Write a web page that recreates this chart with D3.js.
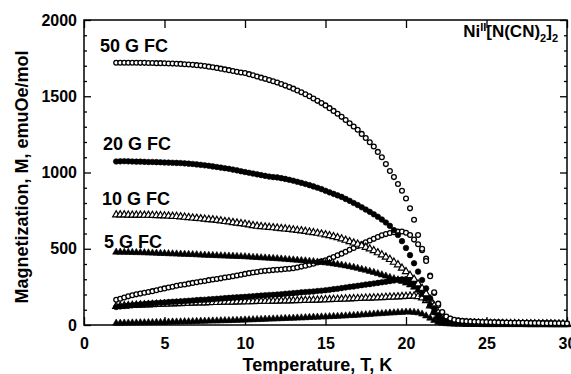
<!DOCTYPE html>
<html>
<head>
<meta charset="utf-8">
<script src="https://cdn.jsdelivr.net/npm/d3@7"></script>
<style>
  body { margin: 0; background: #fff; }
  text { font-family: "Liberation Sans", Arial, sans-serif; font-weight: bold; fill: #000; }
</style>
</head>
<body>
<div id="chart"></div>
<script>
const width = 571;
const height = 374;

// temperatures of the measurement points, K
const temps = [
  2, 2.25, 2.5, 2.75, 3, 3.25, 3.5, 3.75, 4, 4.25, 4.5, 4.75, 5, 5.25, 5.5, 5.75,
  6, 6.25, 6.5, 6.75, 7, 7.25, 7.5, 7.75, 8, 8.25, 8.5, 8.75, 9, 9.25, 9.5, 9.75,
  10, 10.25, 10.5, 10.75, 11, 11.25, 11.5, 11.75, 12, 12.25, 12.5, 12.75, 13, 13.25, 13.5, 13.75,
  14, 14.25, 14.5, 14.75, 15, 15.25, 15.5, 15.75, 16, 16.25, 16.5, 16.75, 17, 17.25, 17.5, 17.75,
  18, 18.25, 18.5, 18.75, 19, 19.25, 19.5, 19.75, 20, 20.25, 20.5, 20.75, 21, 21.25, 21.5, 21.75,
  22, 22.25, 22.5, 22.75, 23, 23.25, 23.5, 23.75, 24, 24.25, 24.5, 24.75, 25, 25.25, 25.5, 25.75,
  26, 26.25, 26.5, 26.75, 27, 27.25, 27.5, 27.75, 28, 28.25, 28.5, 28.75, 29, 29.25, 29.5, 29.75, 30
];

// magnetization, emuOe/mol
const fc50 = [
  1720, 1720, 1720, 1720, 1720, 1720, 1719, 1719, 1718, 1718, 1717, 1717, 1716, 1715, 1714, 1713,
  1712, 1710, 1708, 1706, 1704, 1701, 1698, 1694, 1690, 1686, 1681, 1676, 1671, 1666, 1660, 1656,
  1652, 1645, 1638, 1630, 1622, 1614, 1606, 1598, 1590, 1580, 1570, 1560, 1550, 1538, 1526, 1513,
  1500, 1485, 1470, 1455, 1440, 1422, 1404, 1385, 1365, 1344, 1323, 1302, 1280, 1253, 1226, 1198,
  1170, 1135, 1100, 1055, 1010, 970, 925, 880, 830, 765, 690, 590, 500, 420, 320, 215,
  140, 85, 55, 42, 34, 30, 27, 25, 23, 22, 21, 20, 19, 18, 18, 17,
  16, 16, 15, 15, 14, 14, 14, 13, 13, 13, 12, 12, 12, 11, 11, 11, 10
];
const fc20 = [
  1072, 1073, 1074, 1073, 1072, 1071, 1071, 1070, 1069, 1069, 1068, 1067, 1066, 1065, 1064, 1063,
  1062, 1060, 1058, 1056, 1053, 1050, 1047, 1044, 1040, 1036, 1032, 1028, 1024, 1019, 1014, 1008,
  1003, 998, 993, 988, 983, 978, 973, 970, 968, 963, 958, 952, 946, 939, 932, 925,
  917, 909, 900, 891, 880, 870, 860, 850, 840, 827, 814, 800, 787, 772, 757, 742,
  726, 710, 692, 672, 650, 622, 590, 550, 505, 458, 405, 350, 295, 240, 175, 110,
  65, 40, 30, 24, 20, 18, 17, 16, 15, 15, 14, 14, 13, 13, 12, 12,
  12, 11, 11, 11, 10, 10, 10, 10, 9, 9, 9, 9, 8, 8, 8, 8, 8
];
const fc10 = [
  722, 722, 722, 721, 721, 721, 721, 720, 720, 719, 718, 717, 716, 715, 713, 712,
  710, 707, 705, 702, 700, 697, 694, 692, 690, 686, 683, 679, 676, 672, 669, 665,
  662, 657, 652, 648, 645, 643, 640, 638, 636, 633, 630, 627, 624, 621, 618, 614,
  610, 606, 602, 597, 592, 586, 580, 573, 565, 556, 547, 538, 530, 520, 510, 499,
  488, 474, 460, 445, 430, 412, 395, 373, 350, 325, 300, 270, 240, 205, 170, 125,
  80, 45, 30, 24, 20, 17, 15, 14, 13, 12, 12, 11, 11, 10, 10, 10,
  9, 9, 9, 9, 8, 8, 8, 8, 7, 7, 7, 7, 7, 6, 6, 6, 6
];
const fc5 = [
  478, 478, 477, 477, 476, 475, 475, 474, 473, 472, 471, 470, 469, 468, 467, 466,
  465, 464, 463, 462, 461, 459, 458, 457, 456, 455, 454, 453, 452, 451, 450, 449,
  448, 446, 444, 443, 441, 440, 438, 437, 435, 433, 431, 429, 427, 425, 423, 421,
  418, 416, 413, 411, 408, 405, 401, 397, 393, 388, 383, 378, 372, 365, 359, 352,
  345, 337, 329, 321, 312, 304, 296, 286, 275, 263, 248, 228, 200, 170, 130, 90,
  55, 30, 20, 15, 12, 10, 9, 8, 7, 7, 6, 6, 6, 5, 5, 5,
  5, 5, 5, 4, 4, 4, 4, 4, 4, 4, 4, 4, 3, 3, 3, 3, 3
];
const zfc50 = [
  165, 172, 180, 188, 195, 201, 206, 211, 216, 222, 228, 234, 240, 246, 251, 257,
  262, 266, 271, 276, 280, 285, 289, 294, 298, 302, 306, 311, 315, 320, 325, 330,
  335, 340, 344, 348, 352, 355, 357, 360, 362, 364, 367, 369, 372, 377, 383, 389,
  395, 402, 410, 417, 425, 435, 446, 457, 468, 480, 493, 505, 518, 530, 542, 554,
  565, 577, 588, 596, 603, 608, 612, 613, 605, 590, 560, 530, 490, 435, 325, 210,
  130, 80, 52, 40, 33, 29, 26, 24, 22, 21, 20, 19, 18, 18, 17, 16,
  16, 15, 15, 14, 14, 13, 13, 13, 12, 12, 12, 11, 11, 11, 10, 10, 10
];
const zfc20 = [
  118, 121, 124, 127, 130, 132, 135, 137, 140, 142, 144, 146, 148, 150, 152, 153,
  155, 157, 159, 161, 163, 165, 166, 168, 170, 172, 174, 176, 178, 180, 182, 183,
  185, 187, 189, 191, 193, 195, 197, 198, 200, 202, 205, 207, 209, 211, 214, 216,
  218, 220, 223, 225, 228, 231, 235, 238, 242, 246, 250, 253, 257, 261, 265, 268,
  272, 276, 280, 284, 288, 292, 296, 299, 300, 292, 275, 250, 215, 175, 130, 85,
  50, 32, 24, 20, 17, 15, 14, 13, 12, 12, 11, 11, 10, 10, 10, 9,
  9, 9, 9, 8, 8, 8, 8, 8, 7, 7, 7, 7, 7, 6, 6, 6, 6
];
const zfc10 = [
  122, 124, 126, 127, 129, 130, 131, 132, 133, 134, 135, 136, 137, 138, 139, 140,
  141, 142, 143, 144, 145, 145, 146, 147, 148, 148, 149, 150, 150, 151, 152, 152,
  153, 153, 154, 155, 155, 156, 156, 157, 157, 158, 158, 159, 160, 160, 161, 162,
  162, 163, 164, 165, 166, 167, 168, 169, 170, 171, 172, 173, 174, 175, 176, 177,
  178, 179, 180, 182, 183, 184, 185, 187, 188, 190, 190, 186, 178, 160, 125, 85,
  48, 28, 20, 16, 13, 12, 11, 10, 9, 9, 8, 8, 8, 7, 7, 7,
  7, 6, 6, 6, 6, 6, 5, 5, 5, 5, 5, 5, 5, 4, 4, 4, 4
];
const zfc5 = [
  12, 12, 13, 13, 14, 14, 15, 15, 16, 16, 17, 17, 18, 19, 20, 20,
  21, 22, 22, 23, 24, 25, 25, 26, 27, 27, 28, 29, 29, 30, 31, 32,
  33, 34, 35, 36, 37, 38, 39, 40, 41, 42, 43, 44, 45, 46, 47, 48,
  50, 51, 52, 53, 54, 55, 56, 57, 59, 60, 62, 63, 65, 67, 68, 70,
  72, 74, 75, 77, 79, 80, 82, 83, 85, 85, 83, 80, 72, 60, 45, 30,
  18, 12, 9, 7, 6, 5, 5, 4, 4, 4, 4, 3, 3, 3, 3, 3,
  3, 3, 3, 3, 3, 3, 2, 2, 2, 2, 2, 2, 2, 2, 2, 2, 2
];

const xTicks = [0, 5, 10, 15, 20, 25, 30];
const yTicks = [0, 500, 1000, 1500, 2000];
const yMinorTicks = [100, 200, 300, 400, 600, 700, 800, 900, 1100, 1200, 1300, 1400, 1600, 1700, 1800, 1900];

const fieldLabels = ['50 G FC', '20 G FC', '10 G FC', '5 G FC'];

const margin = { top: 20, right: 4, bottom: 49, left: 84 };
const innerW = width - margin.left - margin.right;
const innerH = height - margin.top - margin.bottom;

const x = d3.scaleLinear().domain([0, 30]).range([0, innerW]);
const y = d3.scaleLinear().domain([0, 2000]).range([innerH, 0]);

const svg = d3.select('#chart').append('svg')
  .attr('width', width)
  .attr('height', height);

const g = svg.append('g').attr('transform', `translate(${margin.left},${margin.top})`);

// axes, ticks point inward on all four sides
g.append('g')
  .call(d3.axisLeft(y).tickValues(yTicks).tickSize(-7).tickPadding(7).tickFormat(d3.format('d')));
g.append('g').attr('transform', `translate(${innerW},0)`)
  .call(d3.axisRight(y).tickValues(yTicks).tickSize(-7).tickFormat(''));
g.append('g').call(d3.axisLeft(y).tickValues(yMinorTicks).tickSize(-3).tickFormat(''));
g.append('g').attr('transform', `translate(${innerW},0)`)
  .call(d3.axisRight(y).tickValues(yMinorTicks).tickSize(-3).tickFormat(''));
g.append('g').attr('transform', `translate(0,${innerH})`)
  .call(d3.axisBottom(x).tickValues(xTicks).tickSize(-8).tickPadding(12.5).tickFormat(d3.format('d')));
g.append('g')
  .call(d3.axisTop(x).tickValues(xTicks).tickSize(-8).tickFormat(''));

g.selectAll('.domain').remove();
g.selectAll('.tick line').attr('stroke', '#000').attr('stroke-width', 1.3);
g.selectAll('.tick text')
  .style('font-size', '16px')
  .style('font-family', '"Liberation Sans", Arial, sans-serif')
  .style('font-weight', 'bold');

g.append('rect')
  .attr('width', innerW)
  .attr('height', innerH)
  .attr('fill', 'none')
  .attr('stroke', '#000')
  .attr('stroke-width', 1.5);

// data
const series = [
  { values: zfc5, shape: 'triangle', filled: true },
  { values: zfc10, shape: 'triangle', filled: false },
  { values: zfc20, shape: 'circle', filled: true },
  { values: zfc50, shape: 'circle', filled: false },
  { values: fc5, shape: 'triangle', filled: true },
  { values: fc10, shape: 'triangle', filled: false },
  { values: fc20, shape: 'circle', filled: true },
  { values: fc50, shape: 'circle', filled: false }
];

const tri = d3.symbol().type(d3.symbolTriangle).size(22);

series.forEach(s => {
  const pts = temps.map((t, i) => ({ t, m: s.values[i] }));
  const grp = g.append('g');
  if (s.shape === 'circle') {
    grp.selectAll('circle').data(pts).enter().append('circle')
      .attr('cx', d => x(d.t))
      .attr('cy', d => y(d.m))
      .attr('r', s.filled ? 2.8 : 2.4)
      .attr('fill', s.filled ? '#000' : '#fff')
      .attr('stroke', '#000')
      .attr('stroke-width', s.filled ? 0.6 : 1.3);
  } else {
    grp.selectAll('path').data(pts).enter().append('path')
      .attr('d', tri)
      .attr('transform', d => `translate(${x(d.t)},${y(d.m)})`)
      .attr('fill', s.filled ? '#000' : '#fff')
      .attr('stroke', '#000')
      .attr('stroke-width', s.filled ? 0.6 : 1.2);
  }
});

// curve labels
const labelPos = [[100, 52], [103, 150], [102, 205], [104, 248]];
fieldLabels.forEach((lab, i) => {
  svg.append('text')
    .attr('x', labelPos[i][0])
    .attr('y', labelPos[i][1])
    .style('font-size', '18px')
    .text(lab);
});

const formula = svg.append('text')
  .attr('x', 558)
  .attr('y', 37)
  .attr('text-anchor', 'end')
  .style('font-size', '17px');
formula.append('tspan').text('Ni');
formula.append('tspan').attr('dy', -6).style('font-size', '11px').text('II');
formula.append('tspan').attr('dy', 6).text('[N(CN)');
formula.append('tspan').attr('dy', 5).style('font-size', '11px').text('2');
formula.append('tspan').attr('dy', -5).text(']');
formula.append('tspan').attr('dy', 5).style('font-size', '11px').text('2');

// axis titles
svg.append('text')
  .attr('x', margin.left + x(14.5))
  .attr('y', 371)
  .attr('text-anchor', 'middle')
  .style('font-size', '18px')
  .text('Temperature, T, K');

svg.append('text')
  .attr('transform', 'translate(28,177) rotate(-90)')
  .attr('text-anchor', 'middle')
  .style('font-size', '18px')
  .text('Magnetization, M, emuOe/mol');
</script>
</body>
</html>
